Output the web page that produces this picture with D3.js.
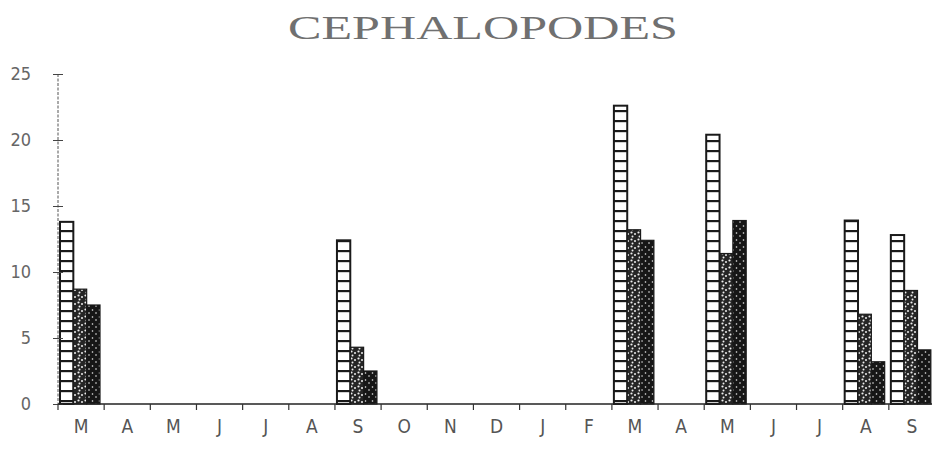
<!DOCTYPE html>
<html><head><meta charset="utf-8">
<script src="https://cdn.jsdelivr.net/npm/d3@7"></script>
<style>
html,body{margin:0;padding:0;background:#fff;}
svg{display:block;}
</style></head>
<body>
<svg id="c" width="932" height="450"></svg>
<script>
const title = "CEPHALOPODES";
const months = ["M","A","M","J","J","A","S","O","N","D","J","F","M","A","M","J","J","A","S"];
const series1 = [13.8,0,0,0,0,0,12.4,0,0,0,0,0,22.6,0,20.4,0,0,13.9,12.8];
const series2 = [8.7,0,0,0,0,0,4.3,0,0,0,0,0,13.2,0,11.4,0,0,6.8,8.6];
const series3 = [7.5,0,0,0,0,0,2.5,0,0,0,0,0,12.4,0,13.9,0,0,3.2,4.1];
const yTicks = [0,5,10,15,20,25];
const seriesKeys = ["s1","s2","s3"];

const svg = d3.select("#c");
const defs = svg.append("defs");

// ladder pattern
const lad = defs.append("pattern").attr("id","ladder").attr("patternUnits","userSpaceOnUse")
  .attr("width",20).attr("height",10);
lad.append("rect").attr("width",20).attr("height",10).attr("fill","#fff");
lad.append("rect").attr("y",0).attr("width",20).attr("height",2.2).attr("fill","#1a1a1a");

function stipple(id, bg, dots){
  const p = defs.append("pattern").attr("id",id).attr("patternUnits","userSpaceOnUse")
    .attr("width",7).attr("height",7);
  p.append("rect").attr("width",7).attr("height",7).attr("fill",bg);
  dots.forEach(d=>p.append("circle").attr("cx",d[0]).attr("cy",d[1]).attr("r",d[2]).attr("fill","#eeeeee"));
}
stipple("st2","#252525",[[1.5,1.5,1.1],[5,3,1.0],[2.5,5.5,1.0]]);
stipple("st3","#161616",[[1.5,2,0.8],[5,5,0.8]]);

const x = d3.scaleBand().domain(d3.range(months.length)).range([58,935]).paddingInner(0).paddingOuter(0);
const x1 = d3.scaleBand().domain(seriesKeys).range([2,42]);
const y = d3.scaleLinear().domain([0,25]).range([404,74]);

// title
svg.append("text").attr("x",483).attr("y",39).attr("text-anchor","middle")
  .attr("font-family","'Liberation Serif','DejaVu Serif',serif").attr("font-size",33)
  .attr("fill","#707070").attr("textLength",390).attr("lengthAdjust","spacingAndGlyphs")
  .text(title);

// bars
const fills = {s1:"url(#ladder)", s2:"url(#st2)", s3:"url(#st3)"};
const data = {s1:series1, s2:series2, s3:series3};
const g = svg.append("g");
seriesKeys.forEach(k=>{
  g.selectAll("rect."+k).data(data[k].map((v,i)=>({v,i})).filter(d=>d.v>0)).enter()
   .append("rect").attr("class",k)
   .attr("x",d=>x(d.i)+x1(k)).attr("width",x1.bandwidth())
   .attr("y",d=>y(d.v)).attr("height",d=>y(0)-y(d.v))
   .attr("fill",fills[k]).attr("stroke","#1a1a1a").attr("stroke-width",k==="s1"?2:1.2);
});

// y axis
const ya = svg.append("g").attr("transform","translate(58,0)")
  .call(d3.axisLeft(y).tickValues(yTicks).tickSize(5).tickPadding(22));
ya.select(".domain").attr("stroke","#555").attr("stroke-dasharray","3,1.5").attr("d","M0,74V404");
ya.selectAll(".tick line").attr("x1",-5).attr("x2",5).attr("stroke","#444");
ya.selectAll(".tick text").attr("font-family","'DejaVu Sans Condensed','Liberation Sans Narrow','DejaVu Sans',sans-serif")
  .attr("font-size",18).attr("fill","#666");

// x axis
const xa = svg.append("g").attr("transform","translate(0,404)")
  .call(d3.axisBottom(x).tickSize(0).tickPadding(16).tickFormat(i=>months[i]));
xa.select(".domain").attr("stroke","#222").attr("stroke-width",1.6).attr("d","M58,0H932");
xa.selectAll(".tick text").attr("font-family","'DejaVu Sans Condensed','Liberation Sans Narrow','DejaVu Sans',sans-serif")
  .attr("font-size",19).attr("fill","#555");
xa.selectAll("line.bt").data(d3.range(months.length+1)).enter().append("line").attr("class","bt")
  .attr("x1",i=>x.range()[0]+i*x.step()).attr("x2",i=>x.range()[0]+i*x.step())
  .attr("y1",0).attr("y2",6).attr("stroke","#333").attr("stroke-width",1.2);
</script>
</body></html>
